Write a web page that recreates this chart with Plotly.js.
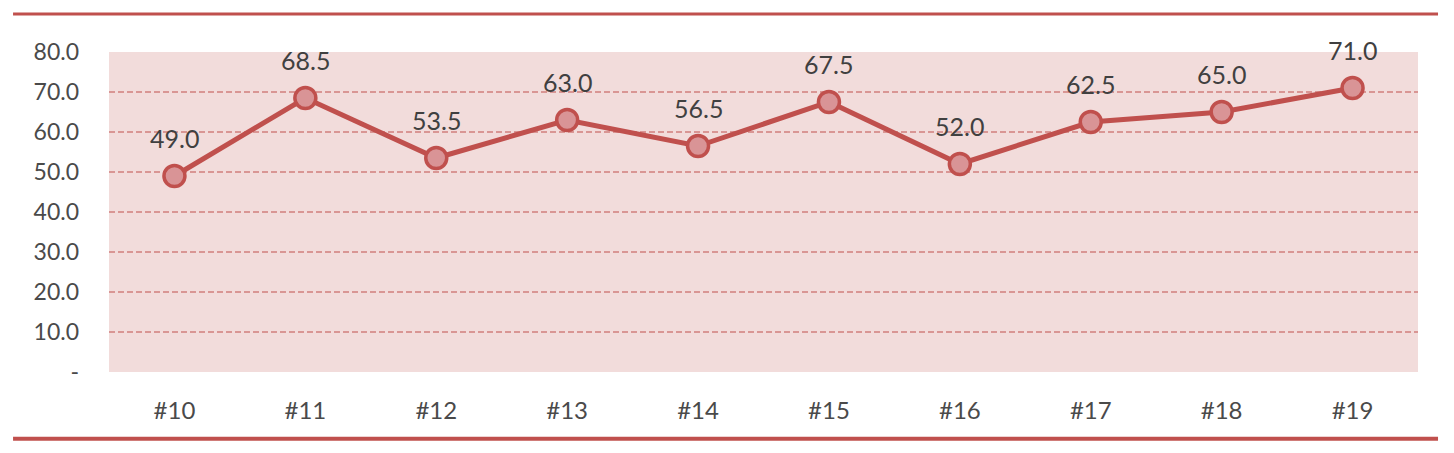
<!DOCTYPE html>
<html>
<head>
<meta charset="utf-8">
<script src="https://cdn.plot.ly/plotly-3.0.1.min.js"></script>
<style>
html,body{margin:0;padding:0;background:#fff;}
#chart{width:1454px;height:453px;}
</style>
</head>
<body>
<div id="chart"></div>
<script>
const categories = ['#10','#11','#12','#13','#14','#15','#16','#17','#18','#19'];
const values = [49.0, 68.5, 53.5, 63.0, 56.5, 67.5, 52.0, 62.5, 65.0, 71.0];
const yTickVals = [0, 10, 20, 30, 40, 50, 60, 70, 80];
const yTickText = ['-', '10.0', '20.0', '30.0', '40.0', '50.0', '60.0', '70.0', '80.0'];

const red = '#c0504d';
const font = 'Lato, "Open Sans", sans-serif';

const trace = {
  x: categories,
  y: values,
  type: 'scatter',
  mode: 'lines+markers',
  line: {color: red, width: 5},
  marker: {size: 21, color: '#d99496', line: {color: red, width: 3.5}},
  hoverinfo: 'skip'
};

const annotations = categories.map((c, i) => ({
  x: c, y: values[i], xref: 'x', yref: 'y',
  text: values[i].toFixed(1), showarrow: false, yshift: 38,
  font: {family: font, size: 25, color: '#404040'}
}));

const layout = {
  width: 1454, height: 453,
  margin: {l: 109, r: 36, t: 52, b: 81},
  paper_bgcolor: '#ffffff',
  plot_bgcolor: '#f2dcdb',
  showlegend: false,
  xaxis: {
    type: 'category',
    range: [-0.5, 9.5],
    showgrid: false, zeroline: false, showline: false,
    ticks: '',
    ticklabelstandoff: 22,
    tickfont: {family: font, size: 24, color: '#4a4a4a'},
    fixedrange: true
  },
  yaxis: {
    range: [0, 80],
    tickvals: yTickVals,
    ticktext: yTickText,
    showgrid: true,
    gridcolor: '#d99694',
    gridwidth: 1.4,
    griddash: '6px,3px',
    zeroline: false, showline: false,
    ticks: '',
    ticklabelstandoff: 29,
    tickfont: {family: font, size: 23, color: '#4a4a4a'},
    fixedrange: true
  },
  annotations: annotations,
  shapes: [
    {type: 'line', xref: 'paper', yref: 'paper', x0: -0.0733, x1: 1.0153, y0: 1.11875, y1: 1.11875,
     line: {color: red, width: 3}},
    {type: 'line', xref: 'paper', yref: 'paper', x0: -0.0733, x1: 1.0153, y0: -0.2085, y1: -0.2085,
     line: {color: red, width: 4}}
  ]
};

Plotly.newPlot('chart', [trace], layout, {displayModeBar: false, staticPlot: true});
</script>
</body>
</html>
